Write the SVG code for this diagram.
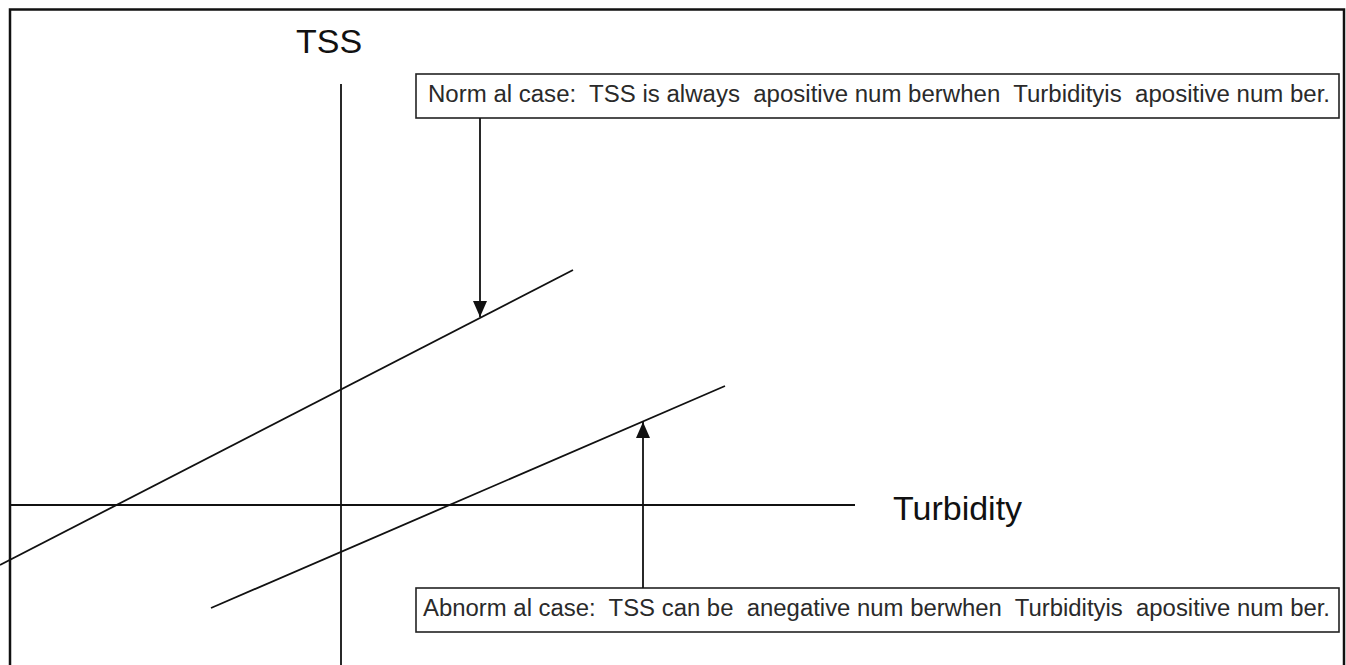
<svg xmlns="http://www.w3.org/2000/svg" width="1346" height="665" viewBox="0 0 1346 665">
<style>
.ln{stroke:#111;stroke-width:1.8;fill:none}
.box{fill:#fff;stroke:#222;stroke-width:1.6}
.note{font-family:"Liberation Sans",Arial,sans-serif;font-size:23px;fill:#2a2a2a;white-space:pre}
.ax{font-family:"Liberation Sans",Arial,sans-serif;font-size:34px;fill:#111}
</style>
<defs>
<marker id="ah" viewBox="0 0 16 14" refX="16" refY="7" markerWidth="16" markerHeight="14" markerUnits="userSpaceOnUse" orient="auto">
<path d="M0,0 L16,7 L0,14 Z" fill="#111"/>
</marker>
</defs>
<rect width="1346" height="665" fill="#fff"/>
<path d="M10,665 V9.5 H1344 V665" fill="none" stroke="#111" stroke-width="2.5"/>
<g id="axes">
<line class="ln" x1="341" y1="84" x2="341" y2="665"/>
<line class="ln" x1="10" y1="505" x2="855" y2="505"/>
<text class="ax" x="296" y="53">TSS</text>
<text class="ax" x="893" y="520">Turbidity</text>
</g>
<g id="lines">
<line class="ln" x1="0" y1="565" x2="573" y2="270"/>
<line class="ln" x1="211" y1="608" x2="725" y2="386"/>
</g>
<g id="normal">
<rect class="box" x="416" y="74" width="923" height="44"/>
<text class="note" xml:space="preserve" x="428" y="102" textLength="902" lengthAdjust="spacingAndGlyphs">Norm al case:  TSS is always  apositive num berwhen  Turbidityis  apositive num ber.</text>
</g>
<g id="abnormal">
<rect class="box" x="416" y="588" width="923" height="44"/>
<text class="note" xml:space="preserve" x="423" y="616" textLength="907" lengthAdjust="spacingAndGlyphs">Abnorm al case:  TSS can be  anegative num berwhen  Turbidityis  apositive num ber.</text>
</g>
<g id="connectors">
<line class="ln" x1="480" y1="118" x2="480" y2="317" stroke-width="2.4" marker-end="url(#ah)"/>
<line class="ln" x1="643" y1="588" x2="643" y2="422" stroke-width="2.4" marker-end="url(#ah)"/>
</g>
</svg>
